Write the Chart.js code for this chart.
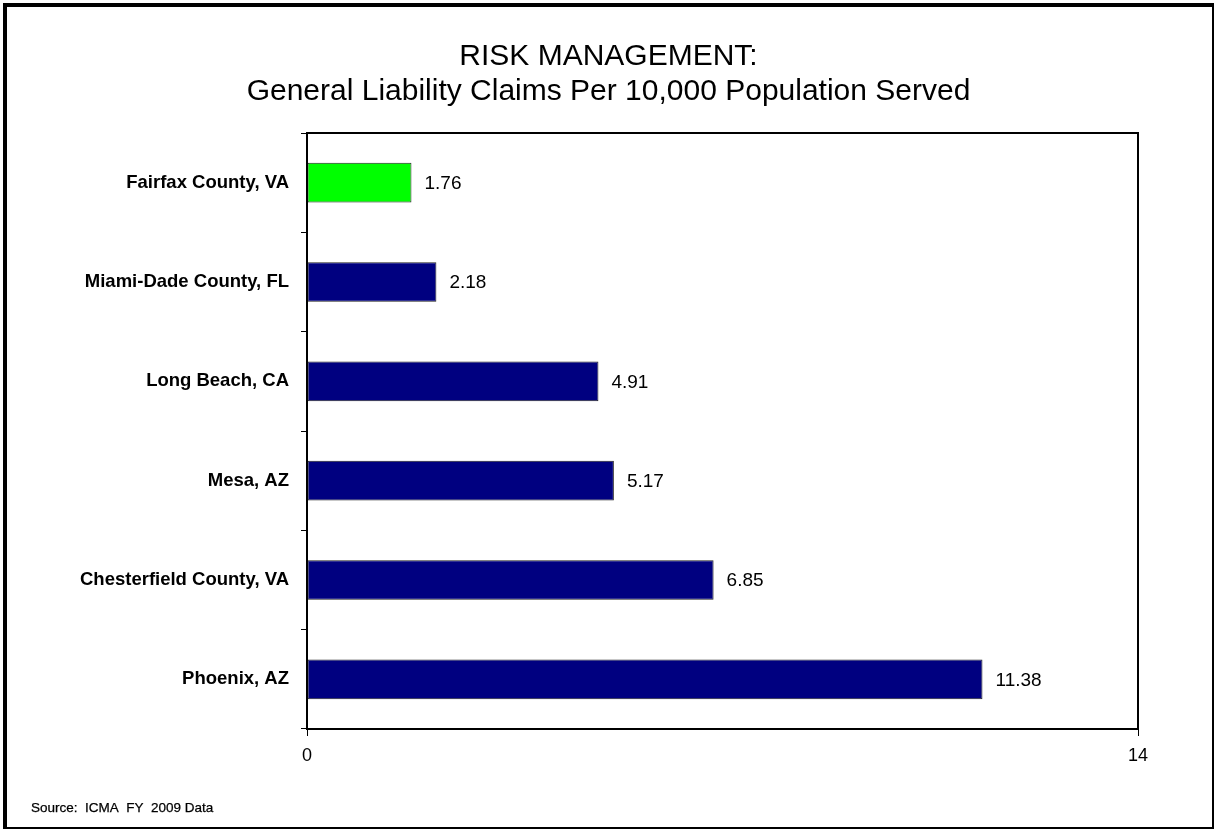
<!DOCTYPE html>
<html>
<head>
<meta charset="utf-8">
<script src="https://cdn.jsdelivr.net/npm/chart.js@4.4.1/dist/chart.umd.min.js"></script>
<style>
  html, body { margin: 0; padding: 0; background: #fff; }
  #wrap { position: relative; width: 1217px; height: 832px; }
  #frame { position: absolute; left: 3px; top: 3px; width: 1205px; height: 820px; border: 4px solid #000; border-right-width: 2px; border-bottom-width: 2px; pointer-events: none; }
  #source { position: absolute; left: 31px; top: 800px; font-family: "Liberation Sans", Arial, sans-serif; font-size: 13.5px; color: #000; -webkit-text-stroke: 0.25px #000; }
  canvas { position: absolute; left: 0; top: 0; }
</style>
</head>
<body>
<div id="wrap">
  <canvas id="c" width="1217" height="832"></canvas>
  <div id="frame"></div>
  <div id="source">Source:&nbsp; ICMA&nbsp; FY&nbsp; 2009 Data</div>
</div>
<script>
const categories = ["Fairfax County, VA", "Miami-Dade County, FL", "Long Beach, CA", "Mesa, AZ", "Chesterfield County, VA", "Phoenix, AZ"];
const values = [1.76, 2.18, 4.91, 5.17, 6.85, 11.38];
const barColors = ["#00FF00", "#000080", "#000080", "#000080", "#000080", "#000080"];
const xTicks = [0, 14];
const titleLines = ["RISK MANAGEMENT:", "General Liability Claims Per 10,000 Population Served"];

const frameBox = {
  id: 'frameBox',
  afterDraw(chart) {
    const a = chart.chartArea, ctx = chart.ctx;
    ctx.save();
    ctx.strokeStyle = '#000';
    ctx.lineWidth = 2;
    ctx.strokeRect(a.left, a.top, a.right - a.left, a.bottom - a.top);
    ctx.restore();
  }
};

const valueLabels = {
  id: 'valueLabels',
  afterDatasetsDraw(chart) {
    const ctx = chart.ctx;
    const meta = chart.getDatasetMeta(0);
    ctx.save();
    ctx.font = '19px "Liberation Sans", Arial, sans-serif';
    ctx.fillStyle = '#000';
    ctx.textAlign = 'left';
    ctx.textBaseline = 'middle';
    meta.data.forEach((bar, i) => {
      ctx.fillText(values[i].toFixed(2), bar.x + 13, bar.y + 1);
    });
    ctx.restore();
  }
};

new Chart(document.getElementById('c'), {
  type: 'bar',
  data: {
    labels: categories,
    datasets: [{
      data: values,
      backgroundColor: barColors,
      borderColor: '#222',
      borderWidth: 1,
      borderSkipped: false,
      categoryPercentage: 1,
      barPercentage: 0.4
    }]
  },
  options: {
    indexAxis: 'y',
    responsive: false,
    animation: false,
    layout: { padding: { left: 79, right: 79, top: 0, bottom: 0 } },
    plugins: {
      legend: { display: false },
      tooltip: { enabled: false },
      title: {
        display: true,
        text: titleLines,
        color: '#000',
        font: { family: '"Liberation Sans", Arial, sans-serif', size: 30, weight: 'normal', lineHeight: 35 / 30 },
        padding: { top: 39, bottom: 24 }
      }
    },
    scales: {
      x: {
        type: 'linear',
        min: 0,
        max: 14,
        afterBuildTicks(scale) { scale.ticks = xTicks.map(v => ({ value: v })); },
        afterFit(scale) { scale.height = 103; },
        border: { display: true, color: '#000', width: 2 },
        grid: { display: true, drawOnChartArea: false, drawTicks: true, tickLength: 7, color: '#000', lineWidth: 1 },
        ticks: {
          color: '#000',
          padding: 9,
          maxRotation: 0,
          font: { family: '"Liberation Sans", Arial, sans-serif', size: 18 }
        }
      },
      y: {
        afterFit(scale) { scale.width = 228; },
        border: { display: true, color: '#000', width: 2 },
        grid: { display: true, offset: true, drawOnChartArea: false, drawTicks: true, tickLength: 6, color: '#000', lineWidth: 1 },
        ticks: {
          color: '#000',
          padding: 12,
          font: { family: '"Liberation Sans", Arial, sans-serif', size: 18.5, weight: 'bold' }
        }
      }
    }
  },
  plugins: [frameBox, valueLabels]
});
</script>
</body>
</html>
